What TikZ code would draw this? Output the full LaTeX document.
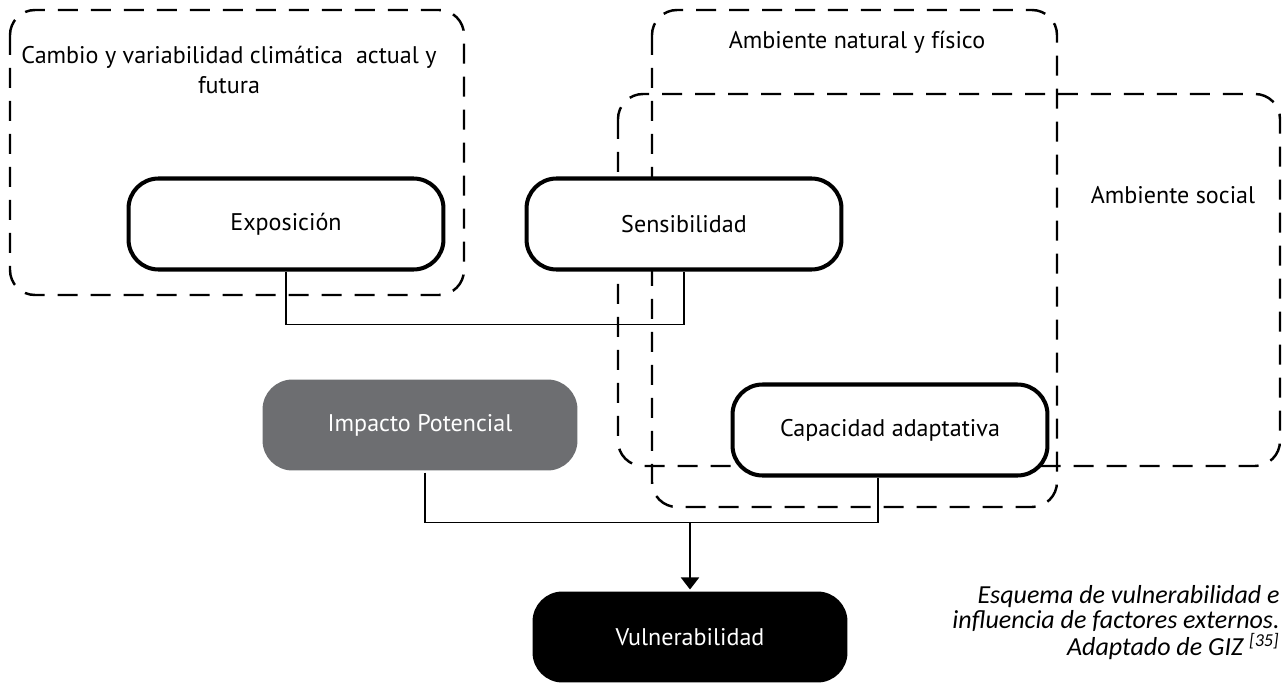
\documentclass[tikz,border=0pt]{standalone}
\usepackage{fontspec}
\setmainfont{PT Sans}
\newfontfamily\capfont{Carlito}
\usetikzlibrary{arrows.meta}

\definecolor{impgray}{HTML}{6D6E71}

\tikzset{
  region/.style={line width=1.4pt, dash pattern=on 0.4cm off 0.26cm, rounded corners=0.5cm},
  factor/.style={draw, line width=2.3pt, rounded corners=0.6cm, fill=white,
    minimum width=6.3cm, minimum height=1.82cm, font=\fontsize{13.7}{16}\selectfont},
  result/.style={factor, draw=none, text=white},
  label/.style={align=center, font=\fontsize{13.7}{17}\selectfont},
  conn/.style={line width=1.1pt},
}

\begin{document}
\begin{tikzpicture}[x=0.02cm, y=-0.02cm]
\useasboundingbox (0,0) rectangle (1282,686);

% regiones
\draw[region] (10,10) rectangle (464,295);
\draw[region] (652,10) rectangle (1057,507);
\draw[region] (618,94) rectangle (1280,466);
\node[label] (clima) at (229,70) {Cambio y variabilidad climática\ \ actual y\\futura};
\node[label] (natural) at (857,42) {Ambiente natural y físico};
\node[label] (social) at (1173,195) {Ambiente social};

% factores
\node[factor] (expo) at (286,224) {Exposición};
\node[factor] (sens) at (684,224) {Sensibilidad};
\node[factor] (cap) at (890,430) {Capacidad adaptativa};
\node[result, fill=impgray] (imp) at (420,425) {Impacto Potencial};
\node[result, fill=black] (vul) at (690,637) {Vulnerabilidad};

% conexiones
\draw[conn] (expo.south) -- ++(0,53) -| (sens.south);
\draw[conn] ([xshift=0.1cm]imp.south) -- ++(0,50) coordinate (union) -| ([xshift=-0.24cm]cap.south);
\draw[conn, -{Triangle[width=0.36cm, length=0.24cm]}] (vul.north |- union) -- (vul.north);

\node[anchor=north east, align=right, inner sep=0pt,
  font=\capfont\itshape\fontsize{14.8}{14.2}\selectfont] (nota) at (1280,585)
  {Esquema de vulnerabilidad e\\influencia de factores externos.\\Adaptado de GIZ \textsuperscript{[35]}};
\end{tikzpicture}
\end{document}
